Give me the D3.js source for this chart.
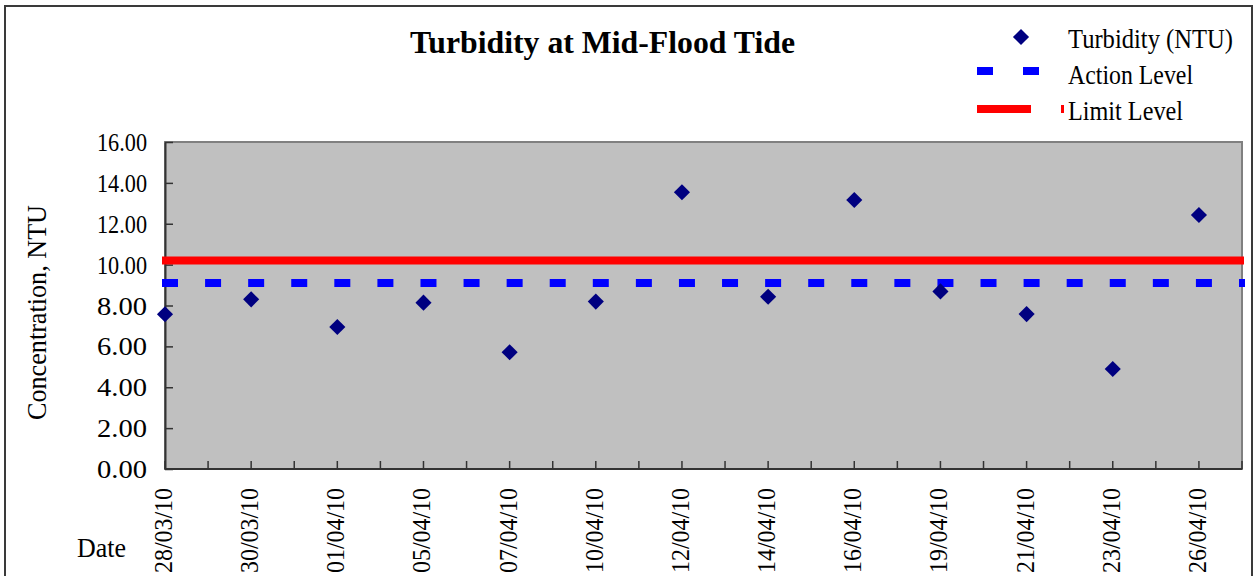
<!DOCTYPE html>
<html>
<head>
<meta charset="utf-8">
<script src="https://cdn.jsdelivr.net/npm/d3@7"></script>
<style>
  html, body { margin: 0; padding: 0; background: #fff; }
  svg { display: block; }
  text { font-family: "Liberation Serif", "Times New Roman", serif; fill: #000; }
</style>
</head>
<body>
<svg id="chart" width="1258" height="576"></svg>
<script>
// ---- data ----
const dates = ["28/03/10","30/03/10","01/04/10","05/04/10","07/04/10","10/04/10","12/04/10",
               "14/04/10","16/04/10","19/04/10","21/04/10","23/04/10","26/04/10"];
const turbidity = [7.57, 8.30, 6.95, 8.14, 5.71, 8.19, 13.54, 8.43, 13.16, 8.69, 7.58, 4.89, 12.43];
const actionLevel = 9.1;
const limitLevel = 10.2;
const yTicks = [0, 2, 4, 6, 8, 10, 12, 14, 16];
const title = "Turbidity at Mid-Flood Tide";
const yTitle = "Concentration, NTU";
const xTitle = "Date";
const legendLabels = ["Turbidity (NTU)", "Action Level", "Limit Level"];

// ---- layout ----
const svg = d3.select("#chart");
const L = 165, R = 1242, T = 142, B = 469;
const step = (R - L) / (dates.length - 0.5);

const x = d3.scalePoint().domain(dates).range([L, R - step / 2]);
const y = d3.scaleLinear().domain([0, 16]).range([B, T]);

// outer border
svg.append("rect").attr("x", 5).attr("y", 6).attr("width", 1247).attr("height", 580)
  .attr("fill", "none").attr("stroke", "#3a3a3a").attr("stroke-width", 2);

// plot area
svg.append("rect").attr("x", L).attr("y", T).attr("width", R - L).attr("height", B - T)
  .attr("fill", "#C0C0C0").attr("stroke", "#808080").attr("stroke-width", 2);

// y axis
const yAxis = d3.axisLeft(y).tickValues(yTicks).tickFormat(d3.format(".2f"))
  .tickSizeInner(-8).tickSizeOuter(0).tickPadding(18);
const gy = svg.append("g").attr("transform", `translate(${L},0)`).call(yAxis);
gy.select(".domain").attr("stroke", "#333").attr("stroke-width", 2);
gy.selectAll(".tick line").attr("stroke", "#333").attr("stroke-width", 1.5);
gy.selectAll(".tick text").attr("font-size", 25).attr("font-family", "Liberation Serif")
  .attr("fill", "#222").attr("dy", "0.34em")
  .attr("textLength", 50).attr("lengthAdjust", "spacingAndGlyphs");

// x axis line + ticks (every half step)
const gx = svg.append("g");
gx.append("line").attr("x1", L).attr("x2", R).attr("y1", B).attr("y2", B)
  .attr("stroke", "#333").attr("stroke-width", 2);
const tickPos = [];
dates.forEach(d => { tickPos.push(x(d)); tickPos.push(x(d) + step / 2); });
gx.selectAll("line.tk").data(tickPos).join("line").attr("class", "tk")
  .attr("x1", d => d).attr("x2", d => d).attr("y1", B).attr("y2", B - 8)
  .attr("stroke", "#333").attr("stroke-width", 1.5);
gx.selectAll("text.xl").data(dates).join("text").attr("class", "xl")
  .attr("transform", d => `translate(${x(d) + 7},573) rotate(-90)`)
  .attr("text-anchor", "start").attr("font-size", 26).attr("fill", "#222")
  .attr("textLength", 85).attr("lengthAdjust", "spacingAndGlyphs")
  .text(d => d);

// limit & action lines
svg.append("line").attr("x1", L - 3).attr("x2", R + 2)
  .attr("y1", y(limitLevel)).attr("y2", y(limitLevel))
  .attr("stroke", "#FF0000").attr("stroke-width", 8);
svg.append("line").attr("x1", L - 3).attr("x2", R + 3)
  .attr("y1", y(actionLevel)).attr("y2", y(actionLevel))
  .attr("stroke", "#0000FF").attr("stroke-width", 8)
  .attr("stroke-dasharray", `16 ${step / 2 - 16}`);

// points
const diamond = d3.symbol().type(d3.symbolSquare).size(130);
svg.selectAll("path.pt").data(dates.map((d, i) => ({ d, v: turbidity[i] }))).join("path")
  .attr("class", "pt").attr("d", diamond)
  .attr("transform", p => `translate(${x(p.d)},${y(p.v)}) rotate(45)`)
  .attr("fill", "#000080");

// titles
svg.append("text").attr("x", 410).attr("y", 53)
  .attr("font-size", 31).attr("font-weight", "bold")
  .attr("textLength", 385).attr("lengthAdjust", "spacingAndGlyphs").text(title);
svg.append("text").attr("transform", `translate(46,420) rotate(-90)`)
  .attr("font-size", 27).attr("fill", "#111")
  .attr("textLength", 215).attr("lengthAdjust", "spacingAndGlyphs").text(yTitle);
svg.append("text").attr("x", 77).attr("y", 557).attr("font-size", 28).attr("fill", "#111")
  .attr("textLength", 49).attr("lengthAdjust", "spacingAndGlyphs").text(xTitle);

// legend
const legendWidths = [165, 125, 115];
const lg = svg.append("g");
lg.append("path").attr("d", diamond).attr("transform", "translate(1021,37) rotate(45)").attr("fill", "#000080");
lg.append("line").attr("x1", 977).attr("x2", 1040).attr("y1", 71).attr("y2", 71)
  .attr("stroke", "#0000FF").attr("stroke-width", 8).attr("stroke-dasharray", "16 30");
lg.append("line").attr("x1", 977).attr("x2", 1031).attr("y1", 109).attr("y2", 109)
  .attr("stroke", "#FF0000").attr("stroke-width", 8);
lg.append("rect").attr("x", 1061).attr("y", 105).attr("width", 3).attr("height", 8).attr("fill", "#FF0000");
lg.selectAll("text").data(legendLabels).join("text")
  .attr("x", 1068).attr("y", (d, i) => 48 + i * 36)
  .attr("font-size", 27).attr("fill", "#222")
  .attr("textLength", (d, i) => legendWidths[i]).attr("lengthAdjust", "spacingAndGlyphs")
  .text(d => d);
</script>
</body>
</html>
